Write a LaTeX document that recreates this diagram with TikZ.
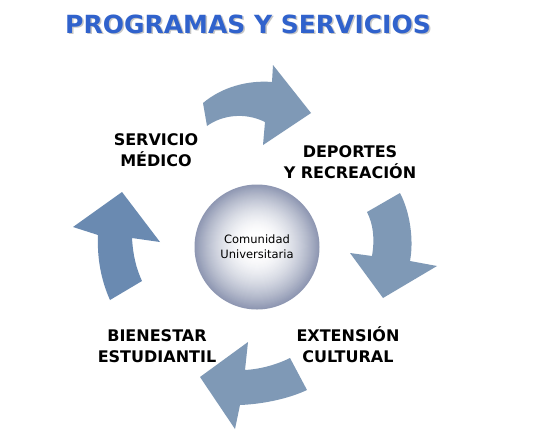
\documentclass[tikz,border=0pt]{standalone}
\usepackage{fontspec}
\setmainfont{DejaVu Sans}
\usetikzlibrary{shadings}
\definecolor{bgtop}{RGB}{230,236,245}
\definecolor{bgbot}{RGB}{196,200,213}
\definecolor{titleblue}{RGB}{48,98,204}
\definecolor{arrowcol}{RGB}{127,153,182}
\definecolor{arrowdark}{RGB}{106,138,177}
\definecolor{sphedge}{RGB}{142,151,178}
\pgfdeclareverticalshading{bgshade}{100bp}{color(0bp)=(bgbot); color(4bp)=(bgbot); color(19bp)=(white); color(88bp)=(white); color(100bp)=(bgtop)}
\tikzset{
  lbl/.style={font=\fontsize{16}{21}\selectfont\bfseries, align=center, text=black, inner sep=0pt},
  cyclearrow/.style={fill=arrowcol, draw=none},
}
\begin{document}
\begin{tikzpicture}[x=1pt,y=-1pt]
\useasboundingbox (0,0) rectangle (535,437);
\shade[shading=bgshade] (0,0) rectangle (535,437);
% title
\node[font=\fontsize{25}{30}\selectfont\bfseries, text=gray!45, inner sep=0pt] (titleshadow) at (249.5,25.5) {PROGRAMAS Y SERVICIOS};
\node[font=\fontsize{25}{30}\selectfont\bfseries, text=titleblue, inner sep=0pt] (title) at (248,24) {PROGRAMAS Y SERVICIOS};
% arrows
\fill[cyclearrow] (203,103) .. controls (222,87) and (248,80) .. (272,82) -- (273,65) -- (311,113) -- (263,145) -- (265,122) .. controls (245,112) and (222,115) .. (207,126) -- cycle;
\fill[cyclearrow] (367,212) -- (400,193) .. controls (410,212) and (414,240) .. (410,261) -- (437,266) -- (383,298) -- (350,253) -- (372,256) .. controls (375,238) and (373,224) .. (367,212) -- cycle;
\fill[cyclearrow] (307,390) .. controls (290,398) and (265,404) .. (240,405) -- (235,429) -- (200,377) -- (248,342) -- (245,370) .. controls (262,369) and (278,364) .. (290,358) -- cycle;
\fill[cyclearrow, fill=arrowdark] (110,300) .. controls (101,280) and (97,258) .. (98,235) -- (73,227) -- (122,192) -- (160,242) -- (132,238) .. controls (133,255) and (136,268) .. (142,281) -- cycle;
% centre sphere (concentric rings)
\coordinate (cc) at (257,247);
\foreach \i in {0,...,63}{
  \pgfmathsetmacro\t{1-\i/64}
  \pgfmathsetmacro\f{100*(max(\t-0.14,0.001)/0.86)^1.7}
  \pgfmathsetmacro\s{(1-\t)*4}
  \fill[sphedge!\f!white] ([yshift=\s pt]cc) circle ({62.5*\t});
}
\node[circle, minimum size=125pt, inner sep=0pt, align=center, font=\fontsize{11.5}{15}\selectfont] (centre) at (cc) {Comunidad\\Universitaria};
% labels
\node[lbl] (medico) at (156,150) {SERVICIO\\MÉDICO};
\node[lbl] (deportes) at (350,162) {DEPORTES\\Y RECREACIÓN};
\node[lbl] (extension) at (348,345) {EXTENSIÓN\\CULTURAL};
\node[lbl] (bienestar) at (157,346) {BIENESTAR\\ESTUDIANTIL};
\end{tikzpicture}
\end{document}
